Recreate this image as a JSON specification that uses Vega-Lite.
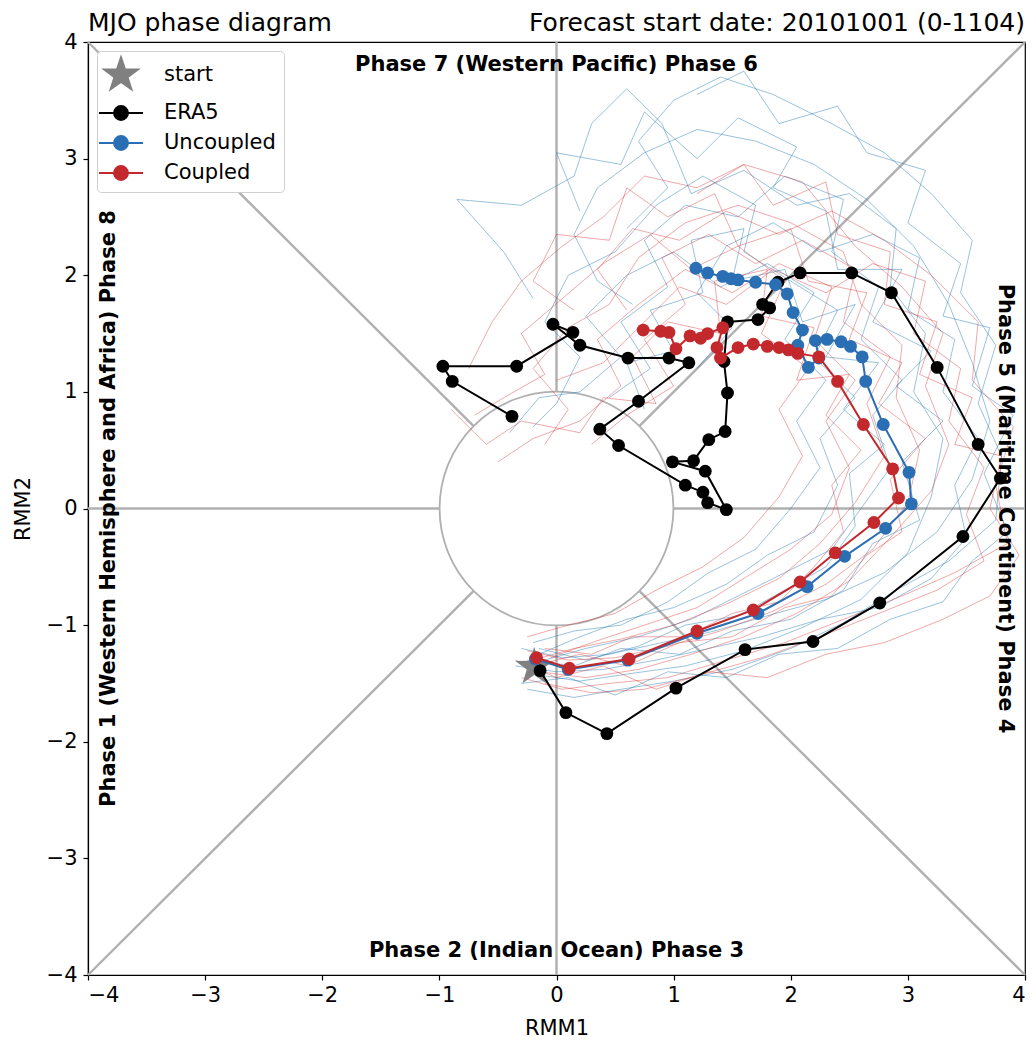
{
  "$schema": "https://vega.github.io/schema/vega-lite/v6.json",
  "description": "MJO phase diagram",
  "width": 937,
  "height": 933,
  "autosize": {"type": "none"},
  "padding": {"left": 88, "top": 42, "right": 11, "bottom": 66},
  "background": "white",
  "datasets": {
    "refLines": [
      {"x": -4, "y": 0, "x2": -1, "y2": 0},
      {"x": 1, "y": 0, "x2": 4, "y2": 0},
      {"x": 0, "y": 1, "x2": 0, "y2": 4},
      {"x": 0, "y": -4, "x2": 0, "y2": -1},
      {"x": -4, "y": 4, "x2": -0.7071, "y2": 0.7071},
      {"x": 0.7071, "y": 0.7071, "x2": 4, "y2": 4},
      {"x": -4, "y": -4, "x2": -0.7071, "y2": -0.7071},
      {"x": 0.7071, "y": -0.7071, "x2": 4, "y2": -4}
    ],
    "ensU": [
      {"m":"U1","t":0,"x":-0.30,"y":-1.20},{"m":"U1","t":1,"x":0.05,"y":-1.28},{"m":"U1","t":2,"x":0.45,"y":-1.25},{"m":"U1","t":3,"x":0.90,"y":-1.15},{"m":"U1","t":4,"x":1.35,"y":-1.05},{"m":"U1","t":5,"x":1.80,"y":-0.92},{"m":"U1","t":6,"x":2.30,"y":-0.78},{"m":"U1","t":7,"x":2.80,"y":-0.55},{"m":"U1","t":8,"x":3.25,"y":-0.20},{"m":"U1","t":9,"x":3.55,"y":0.25},{"m":"U1","t":10,"x":3.70,"y":0.75},{"m":"U1","t":11,"x":3.55,"y":1.25},{"m":"U1","t":12,"x":3.35,"y":1.75},{"m":"U1","t":13,"x":3.05,"y":2.25},{"m":"U1","t":14,"x":2.65,"y":2.65},{"m":"U1","t":15,"x":2.20,"y":2.95},{"m":"U1","t":16,"x":1.70,"y":3.15},{"m":"U1","t":17,"x":1.20,"y":3.25},{"m":"U1","t":18,"x":0.75,"y":3.05},{"m":"U1","t":19,"x":0.35,"y":2.75},{"m":"U1","t":20,"x":0.15,"y":2.35},{"m":"U1","t":21,"x":0.35,"y":1.95},{"m":"U1","t":22,"x":0.65,"y":1.75},
      {"m":"U2","t":0,"x":-0.20,"y":-1.42},{"m":"U2","t":1,"x":0.20,"y":-1.48},{"m":"U2","t":2,"x":0.60,"y":-1.42},{"m":"U2","t":3,"x":1.10,"y":-1.35},{"m":"U2","t":4,"x":1.60,"y":-1.22},{"m":"U2","t":5,"x":2.10,"y":-1.02},{"m":"U2","t":6,"x":2.60,"y":-0.78},{"m":"U2","t":7,"x":3.00,"y":-0.38},{"m":"U2","t":8,"x":3.20,"y":0.10},{"m":"U2","t":9,"x":3.30,"y":0.60},{"m":"U2","t":10,"x":3.05,"y":1.00},{"m":"U2","t":11,"x":3.15,"y":1.50},{"m":"U2","t":12,"x":2.85,"y":1.90},{"m":"U2","t":13,"x":2.90,"y":2.40},{"m":"U2","t":14,"x":2.50,"y":2.70},{"m":"U2","t":15,"x":2.05,"y":2.60},{"m":"U2","t":16,"x":1.60,"y":2.90},{"m":"U2","t":17,"x":1.15,"y":2.70},{"m":"U2","t":18,"x":0.90,"y":3.30},{"m":"U2","t":19,"x":0.60,"y":3.60},{"m":"U2","t":20,"x":0.30,"y":3.30},{"m":"U2","t":21,"x":0.15,"y":2.85},{"m":"U2","t":22,"x":-0.30,"y":2.60},{"m":"U2","t":23,"x":-0.85,"y":2.65},{"m":"U2","t":24,"x":-0.45,"y":2.20},{"m":"U2","t":25,"x":-0.20,"y":1.80},
      {"m":"U3","t":0,"x":-0.10,"y":-1.30},{"m":"U3","t":1,"x":0.25,"y":-1.20},{"m":"U3","t":2,"x":0.70,"y":-1.10},{"m":"U3","t":3,"x":1.15,"y":-0.95},{"m":"U3","t":4,"x":1.55,"y":-0.75},{"m":"U3","t":5,"x":1.95,"y":-0.55},{"m":"U3","t":6,"x":2.35,"y":-0.35},{"m":"U3","t":7,"x":2.60,"y":0.00},{"m":"U3","t":8,"x":2.85,"y":0.35},{"m":"U3","t":9,"x":2.70,"y":0.80},{"m":"U3","t":10,"x":2.95,"y":1.10},{"m":"U3","t":11,"x":2.60,"y":1.45},{"m":"U3","t":12,"x":2.75,"y":1.90},{"m":"U3","t":13,"x":2.35,"y":2.20},{"m":"U3","t":14,"x":2.45,"y":2.65},{"m":"U3","t":15,"x":1.95,"y":2.85},{"m":"U3","t":16,"x":1.55,"y":2.50},{"m":"U3","t":17,"x":1.10,"y":2.60},{"m":"U3","t":18,"x":0.75,"y":2.30},{"m":"U3","t":19,"x":0.95,"y":1.90},{"m":"U3","t":20,"x":0.55,"y":1.60},{"m":"U3","t":21,"x":0.80,"y":1.20},{"m":"U3","t":22,"x":0.45,"y":0.95},
      {"m":"U4","t":0,"x":-0.25,"y":-1.55},{"m":"U4","t":1,"x":0.15,"y":-1.62},{"m":"U4","t":2,"x":0.55,"y":-1.55},{"m":"U4","t":3,"x":1.00,"y":-1.48},{"m":"U4","t":4,"x":1.50,"y":-1.38},{"m":"U4","t":5,"x":2.00,"y":-1.20},{"m":"U4","t":6,"x":2.45,"y":-0.98},{"m":"U4","t":7,"x":2.90,"y":-0.70},{"m":"U4","t":8,"x":3.35,"y":-0.45},{"m":"U4","t":9,"x":3.75,"y":-0.10},{"m":"U4","t":10,"x":3.80,"y":0.45},{"m":"U4","t":11,"x":3.60,"y":0.90},{"m":"U4","t":12,"x":3.75,"y":1.40},{"m":"U4","t":13,"x":3.45,"y":1.85},{"m":"U4","t":14,"x":3.55,"y":2.30},{"m":"U4","t":15,"x":3.20,"y":2.70},{"m":"U4","t":16,"x":2.80,"y":3.05},{"m":"U4","t":17,"x":2.35,"y":3.30},{"m":"U4","t":18,"x":1.85,"y":3.55},{"m":"U4","t":19,"x":1.40,"y":3.70},{"m":"U4","t":20,"x":1.00,"y":3.50},{"m":"U4","t":21,"x":0.70,"y":3.15},{"m":"U4","t":22,"x":0.95,"y":2.75},{"m":"U4","t":23,"x":0.60,"y":2.40},
      {"m":"U5","t":0,"x":-0.15,"y":-1.25},{"m":"U5","t":1,"x":0.20,"y":-1.10},{"m":"U5","t":2,"x":0.60,"y":-0.95},{"m":"U5","t":3,"x":1.00,"y":-0.85},{"m":"U5","t":4,"x":1.45,"y":-0.65},{"m":"U5","t":5,"x":1.80,"y":-0.40},{"m":"U5","t":6,"x":2.20,"y":-0.20},{"m":"U5","t":7,"x":2.40,"y":0.20},{"m":"U5","t":8,"x":2.25,"y":0.60},{"m":"U5","t":9,"x":2.55,"y":0.95},{"m":"U5","t":10,"x":2.20,"y":1.30},{"m":"U5","t":11,"x":2.40,"y":1.70},{"m":"U5","t":12,"x":2.00,"y":1.95},{"m":"U5","t":13,"x":1.60,"y":2.20},{"m":"U5","t":14,"x":1.70,"y":2.60},{"m":"U5","t":15,"x":1.25,"y":2.85},{"m":"U5","t":16,"x":0.85,"y":2.60},{"m":"U5","t":17,"x":0.50,"y":2.20},{"m":"U5","t":18,"x":0.10,"y":2.00},{"m":"U5","t":19,"x":-0.10,"y":1.60},{"m":"U5","t":20,"x":0.20,"y":1.30},{"m":"U5","t":21,"x":0.00,"y":0.90},{"m":"U5","t":22,"x":-0.20,"y":0.70},
      {"m":"U6","t":0,"x":-0.35,"y":-1.35},{"m":"U6","t":1,"x":0.00,"y":-1.40},{"m":"U6","t":2,"x":0.40,"y":-1.38},{"m":"U6","t":3,"x":0.85,"y":-1.30},{"m":"U6","t":4,"x":1.30,"y":-1.20},{"m":"U6","t":5,"x":1.75,"y":-1.10},{"m":"U6","t":6,"x":2.25,"y":-0.95},{"m":"U6","t":7,"x":2.75,"y":-0.85},{"m":"U6","t":8,"x":3.20,"y":-0.60},{"m":"U6","t":9,"x":3.50,"y":-0.25},{"m":"U6","t":10,"x":3.40,"y":0.20},{"m":"U6","t":11,"x":3.60,"y":0.60},{"m":"U6","t":12,"x":3.30,"y":1.00},{"m":"U6","t":13,"x":3.40,"y":1.45},{"m":"U6","t":14,"x":3.00,"y":1.70},{"m":"U6","t":15,"x":3.10,"y":2.15},{"m":"U6","t":16,"x":2.70,"y":2.35},{"m":"U6","t":17,"x":2.25,"y":2.20},{"m":"U6","t":18,"x":1.85,"y":2.45},{"m":"U6","t":19,"x":1.45,"y":2.25},{"m":"U6","t":20,"x":1.20,"y":1.85},{"m":"U6","t":21,"x":1.50,"y":1.55},{"m":"U6","t":22,"x":1.20,"y":1.20},
      {"m":"U7","t":0,"x":-0.20,"y":-1.15},{"m":"U7","t":1,"x":0.15,"y":-1.05},{"m":"U7","t":2,"x":0.55,"y":-1.00},{"m":"U7","t":3,"x":0.95,"y":-0.80},{"m":"U7","t":4,"x":1.30,"y":-0.55},{"m":"U7","t":5,"x":1.70,"y":-0.35},{"m":"U7","t":6,"x":2.00,"y":0.00},{"m":"U7","t":7,"x":2.25,"y":0.35},{"m":"U7","t":8,"x":2.05,"y":0.75},{"m":"U7","t":9,"x":2.30,"y":1.10},{"m":"U7","t":10,"x":1.95,"y":1.45},{"m":"U7","t":11,"x":2.20,"y":1.85},{"m":"U7","t":12,"x":1.80,"y":2.10},{"m":"U7","t":13,"x":1.40,"y":1.90},{"m":"U7","t":14,"x":1.00,"y":2.20},{"m":"U7","t":15,"x":0.60,"y":2.00},{"m":"U7","t":16,"x":0.25,"y":1.65},{"m":"U7","t":17,"x":0.55,"y":1.30},{"m":"U7","t":18,"x":0.20,"y":1.00},{"m":"U7","t":19,"x":-0.15,"y":0.95},{"m":"U7","t":20,"x":-0.40,"y":0.65},
      {"m":"U8","t":0,"x":-0.25,"y":-1.30},{"m":"U8","t":1,"x":0.15,"y":-1.35},{"m":"U8","t":2,"x":0.55,"y":-1.20},{"m":"U8","t":3,"x":1.05,"y":-1.25},{"m":"U8","t":4,"x":1.50,"y":-1.05},{"m":"U8","t":5,"x":2.00,"y":-0.95},{"m":"U8","t":6,"x":2.45,"y":-0.70},{"m":"U8","t":7,"x":2.70,"y":-0.30},{"m":"U8","t":8,"x":3.10,"y":-0.10},{"m":"U8","t":9,"x":2.95,"y":0.40},{"m":"U8","t":10,"x":3.30,"y":0.75},{"m":"U8","t":11,"x":2.90,"y":1.05},{"m":"U8","t":12,"x":3.20,"y":1.35},{"m":"U8","t":13,"x":2.70,"y":1.60},{"m":"U8","t":14,"x":2.95,"y":2.05},{"m":"U8","t":15,"x":2.40,"y":2.05},{"m":"U8","t":16,"x":2.30,"y":2.55},{"m":"U8","t":17,"x":1.85,"y":2.75},{"m":"U8","t":18,"x":2.05,"y":3.10},{"m":"U8","t":19,"x":1.55,"y":3.35},{"m":"U8","t":20,"x":1.20,"y":3.00},{"m":"U8","t":21,"x":0.75,"y":3.40},{"m":"U8","t":22,"x":0.55,"y":2.95},{"m":"U8","t":23,"x":0.00,"y":3.05},{"m":"U8","t":24,"x":0.20,"y":2.55},
      {"m":"U9","t":0,"x":-0.15,"y":-1.20},{"m":"U9","t":1,"x":0.25,"y":-1.30},{"m":"U9","t":2,"x":0.70,"y":-1.18},{"m":"U9","t":3,"x":1.10,"y":-1.00},{"m":"U9","t":4,"x":1.55,"y":-0.92},{"m":"U9","t":5,"x":1.95,"y":-0.70},{"m":"U9","t":6,"x":2.30,"y":-0.50},{"m":"U9","t":7,"x":2.55,"y":-0.15},{"m":"U9","t":8,"x":2.50,"y":0.30},{"m":"U9","t":9,"x":2.80,"y":0.55},{"m":"U9","t":10,"x":2.45,"y":0.85},{"m":"U9","t":11,"x":2.75,"y":1.25},{"m":"U9","t":12,"x":2.30,"y":1.30},{"m":"U9","t":13,"x":2.55,"y":1.75},{"m":"U9","t":14,"x":2.10,"y":1.60},{"m":"U9","t":15,"x":1.95,"y":2.05},{"m":"U9","t":16,"x":1.50,"y":1.95},{"m":"U9","t":17,"x":1.60,"y":2.40},{"m":"U9","t":18,"x":1.15,"y":2.30},{"m":"U9","t":19,"x":1.25,"y":1.85},{"m":"U9","t":20,"x":0.80,"y":1.70},{"m":"U9","t":21,"x":1.00,"y":1.35},{"m":"U9","t":22,"x":0.60,"y":1.25},{"m":"U9","t":23,"x":0.75,"y":0.85},
      {"m":"U10","t":0,"x":-0.30,"y":-1.50},{"m":"U10","t":1,"x":0.10,"y":-1.45},{"m":"U10","t":2,"x":0.50,"y":-1.60},{"m":"U10","t":3,"x":0.95,"y":-1.40},{"m":"U10","t":4,"x":1.45,"y":-1.45},{"m":"U10","t":5,"x":1.90,"y":-1.25},{"m":"U10","t":6,"x":2.40,"y":-1.20},{"m":"U10","t":7,"x":2.85,"y":-0.95},{"m":"U10","t":8,"x":3.30,"y":-0.80},{"m":"U10","t":9,"x":3.55,"y":-0.45},{"m":"U10","t":10,"x":3.85,"y":-0.20},{"m":"U10","t":11,"x":3.65,"y":0.30},{"m":"U10","t":12,"x":3.90,"y":0.80},{"m":"U10","t":13,"x":3.55,"y":1.05},{"m":"U10","t":14,"x":3.70,"y":1.55},{"m":"U10","t":15,"x":3.30,"y":1.65},{"m":"U10","t":16,"x":3.45,"y":2.10},{"m":"U10","t":17,"x":3.00,"y":2.45},{"m":"U10","t":18,"x":3.15,"y":2.90},{"m":"U10","t":19,"x":2.65,"y":3.05},{"m":"U10","t":20,"x":2.40,"y":3.45},{"m":"U10","t":21,"x":1.90,"y":3.30},{"m":"U10","t":22,"x":1.60,"y":3.75},{"m":"U10","t":23,"x":1.20,"y":3.55}
    ],
    "ensC": [
      {"m":"C1","t":0,"x":-0.25,"y":-1.22},{"m":"C1","t":1,"x":0.10,"y":-1.30},{"m":"C1","t":2,"x":0.50,"y":-1.28},{"m":"C1","t":3,"x":0.95,"y":-1.18},{"m":"C1","t":4,"x":1.40,"y":-1.05},{"m":"C1","t":5,"x":1.85,"y":-0.88},{"m":"C1","t":6,"x":2.30,"y":-0.65},{"m":"C1","t":7,"x":2.70,"y":-0.35},{"m":"C1","t":8,"x":3.00,"y":0.05},{"m":"C1","t":9,"x":3.10,"y":0.50},{"m":"C1","t":10,"x":2.90,"y":0.95},{"m":"C1","t":11,"x":2.95,"y":1.40},{"m":"C1","t":12,"x":2.60,"y":1.75},{"m":"C1","t":13,"x":2.45,"y":2.20},{"m":"C1","t":14,"x":2.00,"y":2.45},{"m":"C1","t":15,"x":1.55,"y":2.60},{"m":"C1","t":16,"x":1.10,"y":2.45},{"m":"C1","t":17,"x":0.70,"y":2.15},{"m":"C1","t":18,"x":0.45,"y":1.75},{"m":"C1","t":19,"x":0.10,"y":1.55},{"m":"C1","t":20,"x":-0.20,"y":1.20},{"m":"C1","t":21,"x":0.10,"y":0.85},{"m":"C1","t":22,"x":-0.10,"y":0.55},
      {"m":"C2","t":0,"x":-0.15,"y":-1.40},{"m":"C2","t":1,"x":0.25,"y":-1.45},{"m":"C2","t":2,"x":0.70,"y":-1.38},{"m":"C2","t":3,"x":1.15,"y":-1.25},{"m":"C2","t":4,"x":1.60,"y":-1.10},{"m":"C2","t":5,"x":2.05,"y":-0.90},{"m":"C2","t":6,"x":2.50,"y":-0.62},{"m":"C2","t":7,"x":2.85,"y":-0.25},{"m":"C2","t":8,"x":3.20,"y":0.15},{"m":"C2","t":9,"x":3.35,"y":0.55},{"m":"C2","t":10,"x":3.15,"y":1.05},{"m":"C2","t":11,"x":3.30,"y":1.50},{"m":"C2","t":12,"x":2.95,"y":1.90},{"m":"C2","t":13,"x":2.55,"y":2.25},{"m":"C2","t":14,"x":2.10,"y":2.80},{"m":"C2","t":15,"x":1.60,"y":2.95},{"m":"C2","t":16,"x":1.20,"y":2.75},{"m":"C2","t":17,"x":0.75,"y":2.85},{"m":"C2","t":18,"x":0.40,"y":2.50},{"m":"C2","t":19,"x":0.05,"y":2.25},{"m":"C2","t":20,"x":-0.30,"y":1.95},{"m":"C2","t":21,"x":-0.55,"y":1.60},{"m":"C2","t":22,"x":-0.75,"y":1.20},
      {"m":"C3","t":0,"x":-0.05,"y":-1.28},{"m":"C3","t":1,"x":0.30,"y":-1.15},{"m":"C3","t":2,"x":0.75,"y":-1.00},{"m":"C3","t":3,"x":1.20,"y":-0.85},{"m":"C3","t":4,"x":1.60,"y":-0.60},{"m":"C3","t":5,"x":2.00,"y":-0.35},{"m":"C3","t":6,"x":2.35,"y":-0.05},{"m":"C3","t":7,"x":2.50,"y":0.35},{"m":"C3","t":8,"x":2.30,"y":0.75},{"m":"C3","t":9,"x":2.55,"y":1.10},{"m":"C3","t":10,"x":2.20,"y":1.45},{"m":"C3","t":11,"x":2.35,"y":1.90},{"m":"C3","t":12,"x":1.90,"y":2.10},{"m":"C3","t":13,"x":1.50,"y":1.85},{"m":"C3","t":14,"x":1.10,"y":2.05},{"m":"C3","t":15,"x":0.70,"y":1.75},{"m":"C3","t":16,"x":0.35,"y":1.45},{"m":"C3","t":17,"x":0.55,"y":1.05},{"m":"C3","t":18,"x":0.20,"y":0.75},{"m":"C3","t":19,"x":-0.20,"y":0.60},{"m":"C3","t":20,"x":-0.50,"y":0.40},
      {"m":"C4","t":0,"x":-0.30,"y":-1.45},{"m":"C4","t":1,"x":0.05,"y":-1.55},{"m":"C4","t":2,"x":0.45,"y":-1.50},{"m":"C4","t":3,"x":0.95,"y":-1.45},{"m":"C4","t":4,"x":1.45,"y":-1.30},{"m":"C4","t":5,"x":1.95,"y":-1.15},{"m":"C4","t":6,"x":2.45,"y":-0.95},{"m":"C4","t":7,"x":2.95,"y":-0.75},{"m":"C4","t":8,"x":3.40,"y":-0.55},{"m":"C4","t":9,"x":3.85,"y":-0.30},{"m":"C4","t":10,"x":3.75,"y":0.20},{"m":"C4","t":11,"x":3.90,"y":0.70},{"m":"C4","t":12,"x":3.55,"y":1.10},{"m":"C4","t":13,"x":3.60,"y":1.60},{"m":"C4","t":14,"x":3.20,"y":2.00},{"m":"C4","t":15,"x":2.80,"y":2.30},{"m":"C4","t":16,"x":2.35,"y":2.55},{"m":"C4","t":17,"x":1.90,"y":2.35},{"m":"C4","t":18,"x":1.45,"y":2.55},{"m":"C4","t":19,"x":1.05,"y":2.30},{"m":"C4","t":20,"x":0.65,"y":2.40},{"m":"C4","t":21,"x":0.35,"y":2.05},{"m":"C4","t":22,"x":0.60,"y":1.70},
      {"m":"C5","t":0,"x":-0.20,"y":-1.30},{"m":"C5","t":1,"x":0.15,"y":-1.20},{"m":"C5","t":2,"x":0.55,"y":-1.12},{"m":"C5","t":3,"x":1.00,"y":-1.00},{"m":"C5","t":4,"x":1.45,"y":-0.82},{"m":"C5","t":5,"x":1.90,"y":-0.60},{"m":"C5","t":6,"x":2.25,"y":-0.30},{"m":"C5","t":7,"x":2.55,"y":0.05},{"m":"C5","t":8,"x":2.80,"y":0.45},{"m":"C5","t":9,"x":2.65,"y":0.90},{"m":"C5","t":10,"x":2.85,"y":1.30},{"m":"C5","t":11,"x":2.45,"y":1.60},{"m":"C5","t":12,"x":2.55,"y":2.05},{"m":"C5","t":13,"x":2.10,"y":2.30},{"m":"C5","t":14,"x":1.70,"y":2.10},{"m":"C5","t":15,"x":1.30,"y":2.35},{"m":"C5","t":16,"x":0.90,"y":2.15},{"m":"C5","t":17,"x":1.10,"y":1.75},{"m":"C5","t":18,"x":0.75,"y":1.45},{"m":"C5","t":19,"x":1.00,"y":1.05},{"m":"C5","t":20,"x":0.60,"y":0.80},{"m":"C5","t":21,"x":0.30,"y":0.55},
      {"m":"C6","t":0,"x":-0.10,"y":-1.50},{"m":"C6","t":1,"x":0.30,"y":-1.58},{"m":"C6","t":2,"x":0.75,"y":-1.55},{"m":"C6","t":3,"x":1.25,"y":-1.42},{"m":"C6","t":4,"x":1.75,"y":-1.28},{"m":"C6","t":5,"x":2.25,"y":-1.10},{"m":"C6","t":6,"x":2.75,"y":-0.90},{"m":"C6","t":7,"x":3.25,"y":-0.70},{"m":"C6","t":8,"x":3.65,"y":-0.45},{"m":"C6","t":9,"x":3.50,"y":-0.05},{"m":"C6","t":10,"x":3.65,"y":0.35},{"m":"C6","t":11,"x":3.35,"y":0.75},{"m":"C6","t":12,"x":3.45,"y":1.20},{"m":"C6","t":13,"x":3.05,"y":1.50},{"m":"C6","t":14,"x":3.15,"y":1.95},{"m":"C6","t":15,"x":2.70,"y":2.10},{"m":"C6","t":16,"x":2.30,"y":1.85},{"m":"C6","t":17,"x":1.85,"y":2.05},{"m":"C6","t":18,"x":1.45,"y":1.75},{"m":"C6","t":19,"x":1.05,"y":1.90},{"m":"C6","t":20,"x":0.70,"y":1.55},{"m":"C6","t":21,"x":0.40,"y":1.25},{"m":"C6","t":22,"x":0.00,"y":1.10},
      {"m":"C7","t":0,"x":-0.25,"y":-1.10},{"m":"C7","t":1,"x":0.10,"y":-1.00},{"m":"C7","t":2,"x":0.50,"y":-0.90},{"m":"C7","t":3,"x":0.85,"y":-0.70},{"m":"C7","t":4,"x":1.25,"y":-0.50},{"m":"C7","t":5,"x":1.60,"y":-0.25},{"m":"C7","t":6,"x":1.90,"y":0.10},{"m":"C7","t":7,"x":2.10,"y":0.45},{"m":"C7","t":8,"x":1.90,"y":0.85},{"m":"C7","t":9,"x":2.15,"y":1.20},{"m":"C7","t":10,"x":1.75,"y":1.50},{"m":"C7","t":11,"x":1.95,"y":1.95},{"m":"C7","t":12,"x":1.55,"y":2.25},{"m":"C7","t":13,"x":1.15,"y":2.05},{"m":"C7","t":14,"x":0.80,"y":2.35},{"m":"C7","t":15,"x":0.40,"y":2.10},{"m":"C7","t":16,"x":0.05,"y":1.80},{"m":"C7","t":17,"x":-0.30,"y":1.50},{"m":"C7","t":18,"x":-0.10,"y":1.15},{"m":"C7","t":19,"x":-0.45,"y":0.95},{"m":"C7","t":20,"x":-0.70,"y":0.80},
      {"m":"C8","t":0,"x":-0.20,"y":-1.35},{"m":"C8","t":1,"x":0.20,"y":-1.25},{"m":"C8","t":2,"x":0.60,"y":-1.35},{"m":"C8","t":3,"x":1.05,"y":-1.15},{"m":"C8","t":4,"x":1.50,"y":-1.10},{"m":"C8","t":5,"x":1.95,"y":-0.85},{"m":"C8","t":6,"x":2.35,"y":-0.75},{"m":"C8","t":7,"x":2.65,"y":-0.40},{"m":"C8","t":8,"x":2.95,"y":-0.20},{"m":"C8","t":9,"x":2.85,"y":0.25},{"m":"C8","t":10,"x":3.15,"y":0.60},{"m":"C8","t":11,"x":2.75,"y":0.90},{"m":"C8","t":12,"x":2.95,"y":1.25},{"m":"C8","t":13,"x":2.50,"y":1.45},{"m":"C8","t":14,"x":2.65,"y":1.85},{"m":"C8","t":15,"x":2.15,"y":1.95},{"m":"C8","t":16,"x":2.00,"y":2.40},{"m":"C8","t":17,"x":1.55,"y":2.25},{"m":"C8","t":18,"x":1.35,"y":2.70},{"m":"C8","t":19,"x":0.95,"y":2.50},{"m":"C8","t":20,"x":0.60,"y":2.75},{"m":"C8","t":21,"x":0.45,"y":2.30},{"m":"C8","t":22,"x":0.00,"y":2.35},{"m":"C8","t":23,"x":-0.20,"y":1.95},{"m":"C8","t":24,"x":0.15,"y":1.70},
      {"m":"C9","t":0,"x":-0.10,"y":-1.20},{"m":"C9","t":1,"x":0.30,"y":-1.25},{"m":"C9","t":2,"x":0.65,"y":-1.10},{"m":"C9","t":3,"x":1.10,"y":-1.10},{"m":"C9","t":4,"x":1.50,"y":-0.90},{"m":"C9","t":5,"x":1.90,"y":-0.80},{"m":"C9","t":6,"x":2.20,"y":-0.50},{"m":"C9","t":7,"x":2.45,"y":-0.20},{"m":"C9","t":8,"x":2.35,"y":0.20},{"m":"C9","t":9,"x":2.60,"y":0.50},{"m":"C9","t":10,"x":2.30,"y":0.80},{"m":"C9","t":11,"x":2.50,"y":1.15},{"m":"C9","t":12,"x":2.05,"y":1.10},{"m":"C9","t":13,"x":2.20,"y":1.55},{"m":"C9","t":14,"x":1.75,"y":1.65},{"m":"C9","t":15,"x":1.80,"y":2.05},{"m":"C9","t":16,"x":1.35,"y":1.95},{"m":"C9","t":17,"x":1.40,"y":1.50},{"m":"C9","t":18,"x":0.95,"y":1.60},{"m":"C9","t":19,"x":0.65,"y":1.30},{"m":"C9","t":20,"x":0.85,"y":0.90},{"m":"C9","t":21,"x":0.40,"y":0.95},{"m":"C9","t":22,"x":0.20,"y":0.65},{"m":"C9","t":23,"x":-0.30,"y":0.75},{"m":"C9","t":24,"x":-0.60,"y":0.55},{"m":"C9","t":25,"x":-0.90,"y":0.85},
      {"m":"C10","t":0,"x":-0.35,"y":-1.30},{"m":"C10","t":1,"x":0.00,"y":-1.45},{"m":"C10","t":2,"x":0.40,"y":-1.35},{"m":"C10","t":3,"x":0.85,"y":-1.55},{"m":"C10","t":4,"x":1.30,"y":-1.40},{"m":"C10","t":5,"x":1.80,"y":-1.45},{"m":"C10","t":6,"x":2.30,"y":-1.25},{"m":"C10","t":7,"x":2.80,"y":-1.15},{"m":"C10","t":8,"x":3.30,"y":-0.95},{"m":"C10","t":9,"x":3.70,"y":-0.75},{"m":"C10","t":10,"x":3.95,"y":-0.40},{"m":"C10","t":11,"x":3.70,"y":0.00},{"m":"C10","t":12,"x":3.80,"y":0.45},{"m":"C10","t":13,"x":3.40,"y":0.55},{"m":"C10","t":14,"x":3.55,"y":0.95},{"m":"C10","t":15,"x":3.10,"y":1.15},{"m":"C10","t":16,"x":3.25,"y":1.60},{"m":"C10","t":17,"x":2.80,"y":1.75},{"m":"C10","t":18,"x":2.85,"y":2.20},{"m":"C10","t":19,"x":2.40,"y":2.35},{"m":"C10","t":20,"x":2.30,"y":2.80},{"m":"C10","t":21,"x":1.85,"y":2.60},{"m":"C10","t":22,"x":1.60,"y":2.95},{"m":"C10","t":23,"x":1.20,"y":2.70}
    ],
    "era5": [
      {"series":"ERA5","t":1,"x":-0.14,"y":-1.39},{"series":"ERA5","t":2,"x":0.08,"y":-1.75},{"series":"ERA5","t":3,"x":0.43,"y":-1.93},{"series":"ERA5","t":4,"x":1.02,"y":-1.54},{"series":"ERA5","t":5,"x":1.61,"y":-1.21},{"series":"ERA5","t":6,"x":2.19,"y":-1.14},{"series":"ERA5","t":7,"x":2.76,"y":-0.81},{"series":"ERA5","t":8,"x":3.47,"y":-0.24},{"series":"ERA5","t":9,"x":3.79,"y":0.26},{"series":"ERA5","t":10,"x":3.60,"y":0.55},{"series":"ERA5","t":11,"x":3.25,"y":1.21},{"series":"ERA5","t":12,"x":2.86,"y":1.85},{"series":"ERA5","t":13,"x":2.52,"y":2.02},{"series":"ERA5","t":14,"x":2.08,"y":2.02},{"series":"ERA5","t":15,"x":1.89,"y":1.94},{"series":"ERA5","t":16,"x":1.76,"y":1.75},{"series":"ERA5","t":17,"x":1.82,"y":1.72},{"series":"ERA5","t":18,"x":1.72,"y":1.62},{"series":"ERA5","t":19,"x":1.46,"y":1.60},{"series":"ERA5","t":20,"x":1.43,"y":1.26},{"series":"ERA5","t":21,"x":1.46,"y":0.99},{"series":"ERA5","t":22,"x":1.44,"y":0.66},{"series":"ERA5","t":23,"x":1.30,"y":0.59},{"series":"ERA5","t":24,"x":1.17,"y":0.41},{"series":"ERA5","t":25,"x":0.99,"y":0.40},{"series":"ERA5","t":26,"x":1.27,"y":0.32},{"series":"ERA5","t":27,"x":1.45,"y":-0.01},{"series":"ERA5","t":28,"x":1.29,"y":0.05},{"series":"ERA5","t":29,"x":1.25,"y":0.14},{"series":"ERA5","t":30,"x":1.10,"y":0.20},{"series":"ERA5","t":31,"x":0.53,"y":0.54},{"series":"ERA5","t":32,"x":0.37,"y":0.68},{"series":"ERA5","t":33,"x":0.70,"y":0.92},{"series":"ERA5","t":34,"x":1.13,"y":1.25},{"series":"ERA5","t":35,"x":0.96,"y":1.29},{"series":"ERA5","t":36,"x":0.61,"y":1.29},{"series":"ERA5","t":37,"x":0.20,"y":1.40},{"series":"ERA5","t":38,"x":-0.03,"y":1.58},{"series":"ERA5","t":39,"x":0.14,"y":1.51},{"series":"ERA5","t":40,"x":-0.34,"y":1.22},{"series":"ERA5","t":41,"x":-0.97,"y":1.22},{"series":"ERA5","t":42,"x":-0.89,"y":1.09},{"series":"ERA5","t":43,"x":-0.38,"y":0.79}
    ],
    "unc": [
      {"series":"Uncoupled","t":1,"x":-0.18,"y":-1.29},{"series":"Uncoupled","t":2,"x":0.10,"y":-1.38},{"series":"Uncoupled","t":3,"x":0.61,"y":-1.30},{"series":"Uncoupled","t":4,"x":1.20,"y":-1.07},{"series":"Uncoupled","t":5,"x":1.72,"y":-0.90},{"series":"Uncoupled","t":6,"x":2.14,"y":-0.67},{"series":"Uncoupled","t":7,"x":2.46,"y":-0.41},{"series":"Uncoupled","t":8,"x":2.81,"y":-0.17},{"series":"Uncoupled","t":9,"x":3.03,"y":0.04},{"series":"Uncoupled","t":10,"x":3.01,"y":0.31},{"series":"Uncoupled","t":11,"x":2.79,"y":0.72},{"series":"Uncoupled","t":12,"x":2.64,"y":1.09},{"series":"Uncoupled","t":13,"x":2.61,"y":1.30},{"series":"Uncoupled","t":14,"x":2.51,"y":1.39},{"series":"Uncoupled","t":15,"x":2.43,"y":1.43},{"series":"Uncoupled","t":16,"x":2.31,"y":1.45},{"series":"Uncoupled","t":17,"x":2.21,"y":1.44},{"series":"Uncoupled","t":18,"x":2.24,"y":1.29},{"series":"Uncoupled","t":19,"x":2.15,"y":1.21},{"series":"Uncoupled","t":20,"x":2.06,"y":1.40},{"series":"Uncoupled","t":21,"x":2.10,"y":1.53},{"series":"Uncoupled","t":22,"x":2.02,"y":1.68},{"series":"Uncoupled","t":23,"x":1.97,"y":1.84},{"series":"Uncoupled","t":24,"x":1.87,"y":1.92},{"series":"Uncoupled","t":25,"x":1.70,"y":1.94},{"series":"Uncoupled","t":26,"x":1.55,"y":1.96},{"series":"Uncoupled","t":27,"x":1.49,"y":1.97},{"series":"Uncoupled","t":28,"x":1.42,"y":1.99},{"series":"Uncoupled","t":29,"x":1.29,"y":2.02},{"series":"Uncoupled","t":30,"x":1.19,"y":2.06}
    ],
    "cpl": [
      {"series":"Coupled","t":1,"x":-0.17,"y":-1.28},{"series":"Coupled","t":2,"x":0.11,"y":-1.37},{"series":"Coupled","t":3,"x":0.62,"y":-1.29},{"series":"Coupled","t":4,"x":1.20,"y":-1.05},{"series":"Coupled","t":5,"x":1.68,"y":-0.87},{"series":"Coupled","t":6,"x":2.08,"y":-0.63},{"series":"Coupled","t":7,"x":2.38,"y":-0.38},{"series":"Coupled","t":8,"x":2.71,"y":-0.12},{"series":"Coupled","t":9,"x":2.92,"y":0.09},{"series":"Coupled","t":10,"x":2.87,"y":0.34},{"series":"Coupled","t":11,"x":2.62,"y":0.72},{"series":"Coupled","t":12,"x":2.40,"y":1.09},{"series":"Coupled","t":13,"x":2.24,"y":1.30},{"series":"Coupled","t":14,"x":2.06,"y":1.33},{"series":"Coupled","t":15,"x":1.98,"y":1.36},{"series":"Coupled","t":16,"x":1.90,"y":1.38},{"series":"Coupled","t":17,"x":1.80,"y":1.39},{"series":"Coupled","t":18,"x":1.68,"y":1.41},{"series":"Coupled","t":19,"x":1.55,"y":1.38},{"series":"Coupled","t":20,"x":1.40,"y":1.29},{"series":"Coupled","t":21,"x":1.37,"y":1.38},{"series":"Coupled","t":22,"x":1.42,"y":1.55},{"series":"Coupled","t":23,"x":1.29,"y":1.50},{"series":"Coupled","t":24,"x":1.23,"y":1.46},{"series":"Coupled","t":25,"x":1.14,"y":1.48},{"series":"Coupled","t":26,"x":1.02,"y":1.37},{"series":"Coupled","t":27,"x":0.96,"y":1.51},{"series":"Coupled","t":28,"x":0.89,"y":1.52},{"series":"Coupled","t":29,"x":0.74,"y":1.53}
    ],
    "startPt": [{"series": "start", "x": -0.19, "y": -1.36}]
  },
  "data": {"values": [{}]},
  "encoding": {
    "x": {"type": "quantitative", "scale": {"domain": [-4, 4], "nice": false, "zero": false},
          "axis": {"title": "RMM1", "values": [-4, -3, -2, -1, 0, 1, 2, 3, 4], "format": "d", "labelPadding": 4, "titlePadding": 12}},
    "y": {"type": "quantitative", "scale": {"domain": [-4, 4], "nice": false, "zero": false},
          "axis": {"title": "RMM2", "values": [-4, -3, -2, -1, 0, 1, 2, 3, 4], "format": "d", "labelPadding": 6, "titlePadding": 13}}
  },
  "layer": [
    {
      "data": {"name": "refLines"},
      "mark": {"type": "rule", "color": "#b0b0b0", "strokeWidth": 2.4},
      "encoding": {"x": {"field": "x", "type": "quantitative"}, "y": {"field": "y", "type": "quantitative"}, "x2": {"field": "x2"}, "y2": {"field": "y2"}}
    },
    {
      "mark": {"type": "point", "shape": "circle", "filled": false, "size": 54700, "stroke": "#b0b0b0", "strokeWidth": 1.8, "opacity": 1},
      "encoding": {"x": {"datum": 0, "type": "quantitative"}, "y": {"datum": 0, "type": "quantitative"}}
    },
    {
      "data": {"name": "ensU"},
      "mark": {"type": "line", "stroke": "#1f77b4", "strokeWidth": 1, "opacity": 0.45},
      "encoding": {"x": {"field": "x", "type": "quantitative"}, "y": {"field": "y", "type": "quantitative"}, "detail": {"field": "m"}, "order": {"field": "t", "type": "quantitative"}}
    },
    {
      "data": {"name": "ensC"},
      "mark": {"type": "line", "stroke": "#d62728", "strokeWidth": 1, "opacity": 0.4},
      "encoding": {"x": {"field": "x", "type": "quantitative"}, "y": {"field": "y", "type": "quantitative"}, "detail": {"field": "m"}, "order": {"field": "t", "type": "quantitative"}}
    },
    {
      "data": {"name": "startPt"},
      "mark": {"type": "point", "shape": "M0,-0.97L0.223,-0.307L0.923,-0.3L0.361,0.117L0.57,0.785L0,0.38L-0.57,0.785L-0.361,0.117L-0.923,-0.3L-0.223,-0.307Z", "filled": true, "size": 1700, "opacity": 1},
      "encoding": {
        "x": {"field": "x", "type": "quantitative"}, "y": {"field": "y", "type": "quantitative"},
        "color": {"field": "series", "type": "nominal",
          "scale": {"domain": ["start", "ERA5", "Uncoupled", "Coupled"], "range": ["#808080", "#000000", "#2a6eb4", "#c3282d"]},
          "legend": {"title": null, "orient": "top-left", "offset": 9, "padding": 8, "strokeColor": "#d0d0d0", "fillColor": "white", "cornerRadius": 4,
            "labelFont": "DejaVu Sans", "labelFontSize": 21, "labelColor": "black", "symbolSize": 900, "labelOffset": 27, "rowPadding": 3,
            "symbolStrokeWidth": 1.8, "symbolOpacity": 1,
            "encode": {"symbols": {"update": {
              "shape": {"signal": "datum.value === 'start' ? 'M0,-1.2L0.275,-0.378L1.141,-0.371L0.444,0.144L0.705,0.971L0,0.47L-0.705,0.971L-0.444,0.144L-1.141,-0.371L-0.275,-0.378Z' : 'M-1.47,0H1.47M-0.47,0A0.47,0.47 0 1,1 0.47,0A0.47,0.47 0 1,1 -0.47,0Z'"},
              "fill": {"scale": "color", "field": "value"},
              "stroke": {"scale": "color", "field": "value"},
              "opacity": {"value": 1}
            }}}
          }
        }
      }
    },
    {
      "data": {"name": "era5"},
      "mark": {"type": "line", "strokeWidth": 2, "point": {"filled": true, "size": 165, "opacity": 1}},
      "encoding": {"x": {"field": "x", "type": "quantitative"}, "y": {"field": "y", "type": "quantitative"}, "order": {"field": "t", "type": "quantitative"}, "color": {"field": "series", "type": "nominal"}}
    },
    {
      "data": {"name": "unc"},
      "mark": {"type": "line", "strokeWidth": 2, "point": {"filled": true, "size": 165, "opacity": 1}},
      "encoding": {"x": {"field": "x", "type": "quantitative"}, "y": {"field": "y", "type": "quantitative"}, "order": {"field": "t", "type": "quantitative"}, "color": {"field": "series", "type": "nominal"}}
    },
    {
      "data": {"name": "cpl"},
      "mark": {"type": "line", "strokeWidth": 2, "point": {"filled": true, "size": 165, "opacity": 1}},
      "encoding": {"x": {"field": "x", "type": "quantitative"}, "y": {"field": "y", "type": "quantitative"}, "order": {"field": "t", "type": "quantitative"}, "color": {"field": "series", "type": "nominal"}}
    },
    {
      "mark": {"type": "text", "text": "Phase 7 (Western Pacific) Phase 6", "font": "DejaVu Sans", "fontWeight": "bold", "fontSize": 21, "color": "black", "align": "center", "baseline": "middle"},
      "encoding": {"x": {"datum": 0, "type": "quantitative"}, "y": {"datum": 3.8, "type": "quantitative"}}
    },
    {
      "mark": {"type": "text", "text": "Phase 2 (Indian Ocean) Phase 3", "font": "DejaVu Sans", "fontWeight": "bold", "fontSize": 21, "color": "black", "align": "center", "baseline": "middle"},
      "encoding": {"x": {"datum": 0, "type": "quantitative"}, "y": {"datum": -3.79, "type": "quantitative"}}
    },
    {
      "mark": {"type": "text", "text": "Phase 1 (Western Hemisphere and Africa) Phase 8", "font": "DejaVu Sans", "fontWeight": "bold", "fontSize": 21, "color": "black", "align": "center", "baseline": "middle", "angle": 270},
      "encoding": {"x": {"datum": -3.82, "type": "quantitative"}, "y": {"datum": 0, "type": "quantitative"}}
    },
    {
      "mark": {"type": "text", "text": "Phase 5 (Maritime Continent) Phase 4", "font": "DejaVu Sans", "fontWeight": "bold", "fontSize": 21, "color": "black", "align": "center", "baseline": "middle", "angle": 90},
      "encoding": {"x": {"datum": 3.83, "type": "quantitative"}, "y": {"datum": 0, "type": "quantitative"}}
    },
    {
      "mark": {"type": "text", "text": "MJO phase diagram", "font": "DejaVu Sans", "fontSize": 25, "color": "black", "align": "left", "baseline": "alphabetic", "dy": -11},
      "encoding": {"x": {"datum": -4, "type": "quantitative"}, "y": {"datum": 4, "type": "quantitative"}}
    },
    {
      "mark": {"type": "text", "text": "Forecast start date: 20101001 (0-1104)", "font": "DejaVu Sans", "fontSize": 25, "color": "black", "align": "right", "baseline": "alphabetic", "dy": -11},
      "encoding": {"x": {"datum": 4, "type": "quantitative"}, "y": {"datum": 4, "type": "quantitative"}}
    }
  ],
  "config": {
    "view": {"stroke": "black", "strokeWidth": 1.2},
    "font": "DejaVu Sans",
    "axis": {"labelFont": "DejaVu Sans", "labelFontSize": 21, "labelColor": "black", "titleFont": "DejaVu Sans", "titleFontSize": 21, "titleFontWeight": "normal", "titleColor": "black", "tickColor": "black", "domainColor": "black", "grid": false, "tickSize": 5, "domainWidth": 1.2, "tickWidth": 1.2}
  }
}
